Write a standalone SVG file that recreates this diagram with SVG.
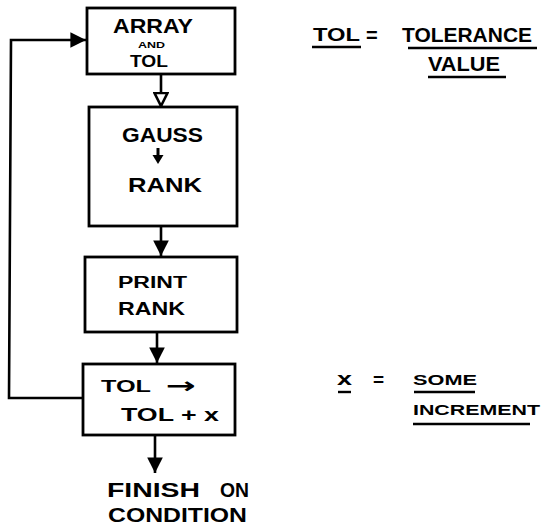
<svg xmlns="http://www.w3.org/2000/svg" width="541" height="531" viewBox="0 0 541 531">
<defs>
<style>
.box{fill:#fff;stroke:#000;stroke-width:2.8}
.ln{fill:none;stroke:#000;stroke-width:2.6}
.t{font-family:"Liberation Sans",Arial,sans-serif;font-weight:bold;fill:#000}
.ul{stroke:#000;stroke-width:2.4}
</style>
<marker id="ah" viewBox="0 0 10 10" refX="10" refY="5" markerWidth="6" markerHeight="6" markerUnits="strokeWidth" orient="auto">
<path d="M0,0 L10,5 L0,10 z" fill="#000"/>
</marker>
<marker id="ahOpen" viewBox="0 0 12 12" refX="11" refY="6" markerWidth="6" markerHeight="6" markerUnits="strokeWidth" orient="auto">
<path d="M1,1 L11,6 L1,11 z" fill="#fff" stroke="#000" stroke-width="2"/>
</marker>
</defs>
<rect width="541" height="531" fill="#fff"/>
<g id="connectors">
<path class="ln" d="M161,74 L161,106" marker-end="url(#ahOpen)"/>
<path class="ln" d="M161,226 L161,256" marker-end="url(#ah)"/>
<path class="ln" d="M157,332 L157,363" marker-end="url(#ah)"/>
<path class="ln" d="M155,435 L155,473" marker-end="url(#ah)"/>
<path class="ln" d="M83,398 L9,398 L11,40 L86,40" marker-end="url(#ah)"/>
</g>
<g id="array">
<rect class="box" x="87" y="8" width="148" height="66"/>
<text class="t" x="113" y="33" font-size="21" textLength="80" lengthAdjust="spacingAndGlyphs">ARRAY</text>
<text class="t" x="138" y="48" font-size="8.5" textLength="27" lengthAdjust="spacingAndGlyphs">AND</text>
<text class="t" x="130" y="67" font-size="17" textLength="38" lengthAdjust="spacingAndGlyphs">TOL</text>
</g>
<g id="gauss">
<rect class="box" x="89" y="107" width="148" height="119"/>
<text class="t" x="122" y="142" font-size="20" textLength="81" lengthAdjust="spacingAndGlyphs">GAUSS</text>
<path d="M158,148 L158,157" stroke="#000" stroke-width="3"/>
<path d="M152.5,155 L163.5,155 L158,164 z" fill="#000"/>
<text class="t" x="128" y="192" font-size="21" textLength="74" lengthAdjust="spacingAndGlyphs">RANK</text>
</g>
<g id="print">
<rect class="box" x="85" y="257" width="152" height="75"/>
<text class="t" x="118" y="288" font-size="16" textLength="69" lengthAdjust="spacingAndGlyphs">PRINT</text>
<text class="t" x="118" y="315" font-size="18" textLength="67" lengthAdjust="spacingAndGlyphs">RANK</text>
</g>
<g id="increment">
<rect class="box" x="83" y="364" width="152" height="71"/>
<text class="t" x="101" y="392" font-size="17" textLength="50" lengthAdjust="spacingAndGlyphs">TOL</text>
<text x="166" y="393" font-family="'DejaVu Sans',sans-serif" font-weight="bold" font-size="22" textLength="30" lengthAdjust="spacingAndGlyphs">→</text>
<text class="t" x="121" y="421" font-size="18" textLength="98" lengthAdjust="spacingAndGlyphs">TOL + x</text>
</g>
<g id="finish">
<text class="t" x="107" y="497" font-size="20" textLength="93" lengthAdjust="spacingAndGlyphs">FINISH</text>
<text class="t" x="220" y="497" font-size="20" textLength="29" lengthAdjust="spacingAndGlyphs">ON</text>
<text class="t" x="108" y="522" font-size="20" textLength="139" lengthAdjust="spacingAndGlyphs">CONDITION</text>
</g>
<g id="note-tol">
<text class="t" x="313" y="41" font-size="18" textLength="47" lengthAdjust="spacingAndGlyphs">TOL</text>
<line class="ul" x1="312" y1="47" x2="361" y2="47"/>
<text class="t" x="366" y="42" font-size="20">=</text>
<text class="t" x="402" y="42" font-size="20" textLength="130" lengthAdjust="spacingAndGlyphs">TOLERANCE</text>
<line class="ul" x1="408" y1="48" x2="537" y2="48"/>
<text class="t" x="428" y="71" font-size="21" textLength="72" lengthAdjust="spacingAndGlyphs">VALUE</text>
<line class="ul" x1="428" y1="77" x2="506" y2="77"/>
</g>
<g id="note-x">
<text class="t" x="337" y="385" font-size="19" textLength="15" lengthAdjust="spacingAndGlyphs">x</text>
<line class="ul" x1="338" y1="392" x2="351" y2="392"/>
<text class="t" x="373" y="386" font-size="19">=</text>
<text class="t" x="413" y="385" font-size="15" textLength="64" lengthAdjust="spacingAndGlyphs">SOME</text>
<line class="ul" x1="414" y1="392" x2="475" y2="392"/>
<text class="t" x="413" y="415" font-size="15" textLength="127" lengthAdjust="spacingAndGlyphs">INCREMENT</text>
<line class="ul" x1="413" y1="424" x2="530" y2="424"/>
</g>
</svg>
